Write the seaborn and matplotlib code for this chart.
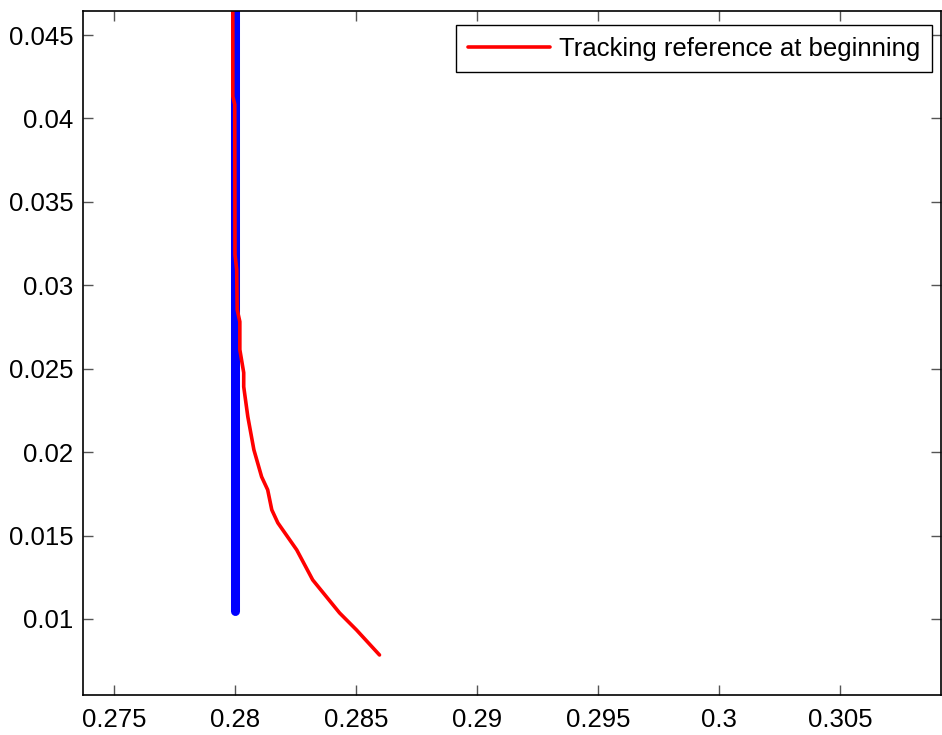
import numpy as np
import pandas as pd
import matplotlib
matplotlib.use("Agg")
import matplotlib.pyplot as plt
import seaborn as sns

# Data
blue_x = [0.28, 0.28]
blue_y = [0.0105, 0.047]
red_x = [0.27991, 0.27991, 0.27999, 0.28000, 0.28007, 0.28009, 0.28020, 0.28020,
         0.28036, 0.28036, 0.28053, 0.28078, 0.28110, 0.28135, 0.28152, 0.28177,
         0.28255, 0.28321, 0.28432, 0.28502, 0.28597]
red_y = [0.04700, 0.04132, 0.04084, 0.03184, 0.03094, 0.02854, 0.02782, 0.02614,
         0.02476, 0.02392, 0.02212, 0.02014, 0.01852, 0.01774, 0.01654, 0.01576,
         0.01414, 0.01234, 0.01036, 0.00934, 0.00784]
x_ticks = [0.275, 0.28, 0.285, 0.29, 0.295, 0.3, 0.305]
x_labels = ["0.275", "0.28", "0.285", "0.29", "0.295", "0.3", "0.305"]
y_ticks = [0.01, 0.015, 0.02, 0.025, 0.03, 0.035, 0.04, 0.045]
y_labels = ["0.01", "0.015", "0.02", "0.025", "0.03", "0.035", "0.04", "0.045"]
legend_label = "Tracking reference at beginning"

sns.set_style("white")
plt.rcParams['font.family'] = ['Liberation Sans', 'DejaVu Sans']
plt.rcParams['text.color'] = 'black'

fig = plt.figure(figsize=(9.42, 7.35), dpi=100)
ax = fig.add_axes([0.0881, 0.0544, 0.9109, 0.9306])

blue_df = pd.DataFrame({"x": blue_x, "y": blue_y})
red_df = pd.DataFrame({"x": red_x, "y": red_y})

sns.lineplot(data=blue_df, x="x", y="y", ax=ax, sort=False, estimator=None,
             color="#0000ff", linewidth=6.5, solid_capstyle="round")
sns.lineplot(data=red_df, x="x", y="y", ax=ax, sort=False, estimator=None,
             color="#ff0000", linewidth=2.6, solid_capstyle="round",
             label=legend_label)

ax.set_xlim(0.27372, 0.30917)
ax.set_ylim(0.00544, 0.04644)
ax.set_xticks(x_ticks)
ax.set_xticklabels(x_labels)
ax.set_yticks(y_ticks)
ax.set_yticklabels(y_labels)
ax.set_xlabel("")
ax.set_ylabel("")
ax.tick_params(direction="in", length=7, width=1, colors="#555555",
               labelcolor="black", labelsize=18.5, top=True, right=True,
               bottom=True, left=True)
ax.tick_params(axis="x", pad=9)
ax.tick_params(axis="y", pad=7)
for s in ax.spines.values():
    s.set_color("black")
    s.set_linewidth(1.2)
    s.set_visible(True)

leg = ax.legend(loc="upper right", fontsize=18.5, frameon=True, fancybox=False,
                edgecolor="black", framealpha=1, borderpad=0.45,
                handlelength=3.2, handletextpad=0.35, borderaxespad=0,
                bbox_to_anchor=(0.9895, 0.9795))
leg.get_frame().set_linewidth(1.0)
for t in leg.get_texts():
    t.set_color("black")

fig.savefig("out.png", dpi=100)
